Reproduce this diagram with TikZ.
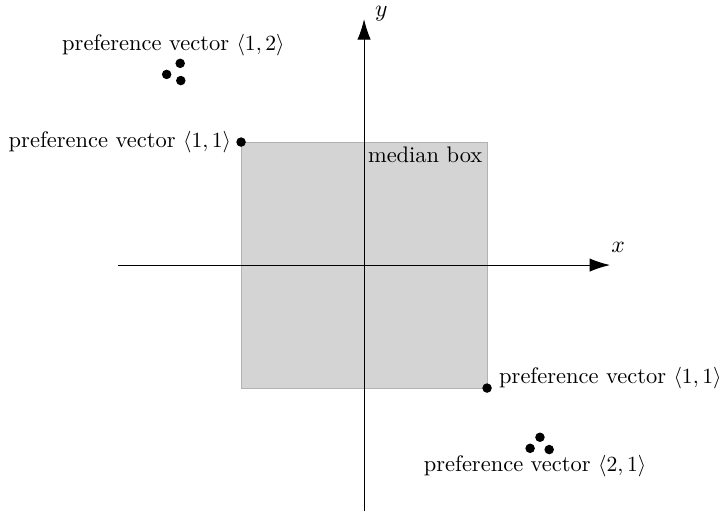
\documentclass[tikz,border=0pt]{standalone}
\usetikzlibrary{arrows.meta}
\begin{document}
\begin{tikzpicture}[
  font=\fontsize{10.4}{12.5}\selectfont,
  axis/.style={-{Latex[length=9.5pt,width=6.2pt]}, line width=0.5pt},
  pt/.style={circle, fill=black, inner sep=0pt, minimum size=4.4pt},
  lbl/.style={inner sep=2pt},
  axlbl/.style={font=\fontsize{11}{13}\selectfont}
]
\useasboundingbox (-5.92,-4.0) rectangle (5.82,4.31);
\fill[fill=black!17, draw=black!30, line width=0.5pt] (-2,-2) rectangle (2,2);
\node[anchor=north east, inner sep=2pt] (mb) at (2,2) {median box};
\coordinate (xl) at (-4,0);
\coordinate (xr) at (4,0);
\coordinate (yb) at (0,-4);
\coordinate (yt) at (0,4);
\draw[axis] (xl) -- (xr);
\draw[axis] (yb) -- (yt);
\node[axlbl] (xlab) at (4.13,0.29) {$x$};
\node[axlbl] (ylab) at (0.28,4.08) {$y$};
\node[pt] (p11a) at (-2,2) {};
\node[left, lbl] (l11a) at (p11a.west) {preference vector $\langle 1,1\rangle$};
\node[pt] (p11b) at (2,-2) {};
\node[anchor=base west, lbl] (l11b) at (2.12,-1.92) {preference vector $\langle 1,1\rangle$};
\node[pt] (a1) at (-2.99,3.28) {};
\node[pt] (a2) at (-3.21,3.10) {};
\node[pt] (a3) at (-2.98,3.00) {};
\node[lbl] (l12) at (-3.1,3.57) {preference vector $\langle 1,2\rangle$};
\node[pt] (b1) at (2.86,-2.80) {};
\node[pt] (b2) at (2.70,-2.98) {};
\node[pt] (b3) at (3.01,-3.00) {};
\node[lbl] (l21) at (2.78,-3.27) {preference vector $\langle 2,1\rangle$};
\end{tikzpicture}
\end{document}
